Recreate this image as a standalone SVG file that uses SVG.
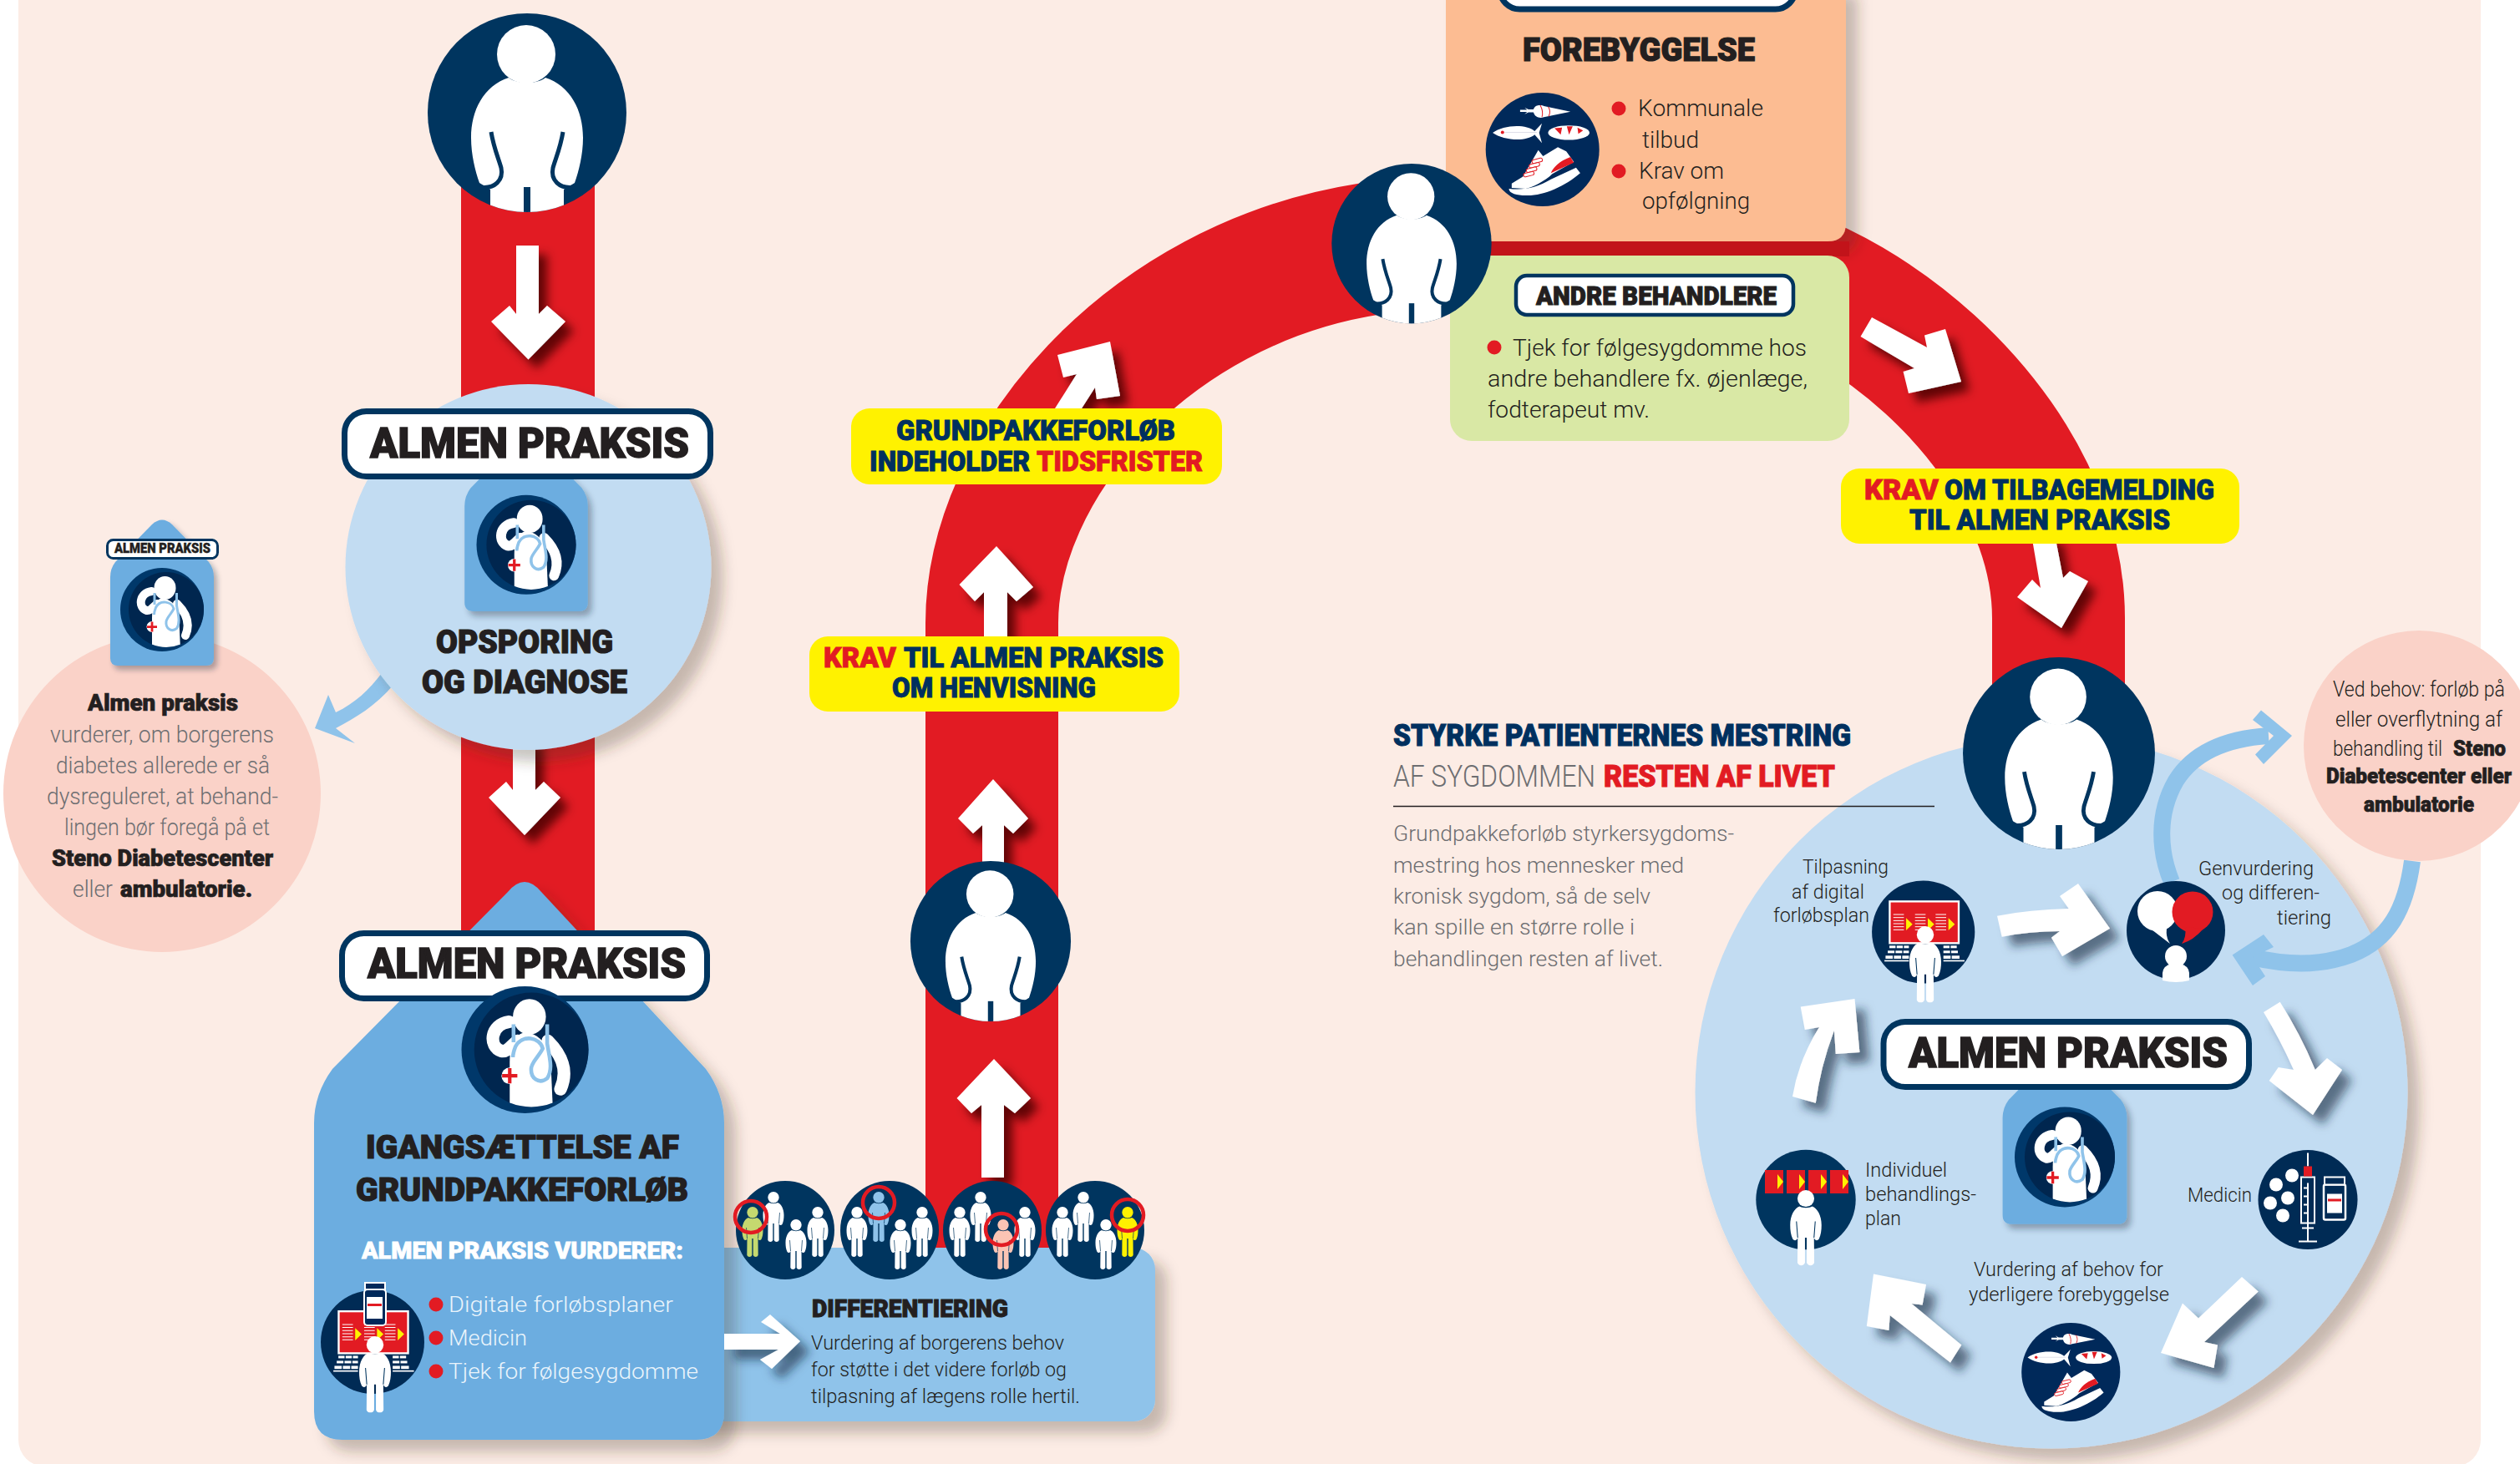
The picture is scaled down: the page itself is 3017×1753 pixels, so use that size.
<svg xmlns="http://www.w3.org/2000/svg" width="3017" height="1753" viewBox="0 0 3017 1753">
<style>
text{font-family:Roboto,"Liberation Sans",sans-serif}
.h{font-weight:900;fill:#231f20;stroke:#231f20;stroke-width:1}
.l{font-weight:300;fill:#231f20}
.g{font-weight:300;fill:#6d6e71}
.y{font-weight:900;fill:#00305f;stroke:#00305f;stroke-width:.9;font-size:34px}
.y .r{stroke:#e21b23}
.r{fill:#e21b23}
.w{fill:#fff}
.lab{fill:#fff;stroke:#00355f;stroke-width:7}
.yb{fill:#fff200}
.bul{fill:#e21b23}
.wr{fill:#fff;filter:url(#asr)}
.wb{fill:#fff;filter:url(#asb)}
.sky{fill:none;stroke:#8fc3ea;stroke-width:20}
.skyf{fill:#8fc3ea}
.t28{font-size:28px}.t26{font-size:26px}.t24{font-size:24px}.t25{font-size:25px}.t27{font-size:27px}
.h50{font-size:50px;stroke-width:1.500}.h38{font-size:38px;stroke-width:1.200}
</style>
<defs>
<filter id="sh" x="-15%" y="-15%" width="130%" height="130%"><feDropShadow dx="14" dy="14" stdDeviation="8" flood-color="#3a2a20" flood-opacity=".28"/></filter>
<filter id="shs" x="-20%" y="-20%" width="140%" height="140%"><feDropShadow dx="4" dy="5" stdDeviation="3" flood-color="#1a2a3a" flood-opacity=".35"/></filter>
<filter id="asr" x="-40%" y="-40%" width="180%" height="180%"><feDropShadow dx="10" dy="11" stdDeviation="6" flood-color="#4c0005" flood-opacity=".85"/></filter>
<filter id="asb" x="-40%" y="-40%" width="180%" height="180%"><feDropShadow dx="12" dy="12" stdDeviation="6" flood-color="#12283c" flood-opacity=".6"/></filter>
<clipPath id="cp119"><circle r="119"/></clipPath>
<clipPath id="cpd"><circle cx="10" r="90"/></clipPath>
<g id="pbig">
<circle r="119" fill="#00355f"/>
<g clip-path="url(#cp119)">
<circle cx="-1" cy="-70" r="35" class="w"/>
<path class="w" d="M-22-42C-52-32-67-3-67 30C-67 50-62 70-57 84L-44 92L-44 130L44 130L44 92L57 84C62 70 67 50 67 30C67-3 52-32 22-42C12-34-12-34-22-42Z"/>
<path fill="none" stroke="#00355f" stroke-width="5" d="M-43 23C-40 42-34 55-31 66C-28 80-38 92-57 89M43 23C40 42 34 55 31 66C28 80 38 92 57 89"/>
<rect x="-4" y="89" width="8" height="32" fill="#00355f"/>
</g>
</g>
<g id="sp">
<circle cy="6.700" r="6.700"/>
<path d="M-5 13C-9 14.500-12.500 20-12.500 28C-12.500 32-12 36-10.500 39C-9 41-7 40-6.500 38L-6.700 58A3.200 3.200 0 0 0-.7 58L-.7 38L.7 38L.7 58A3.200 3.200 0 0 0 6.700 58L6.500 38C7 40 9 41 10.500 39C12 36 12.500 32 12.500 28C12.500 20 9 14.500 5 13C3 14.500-3 14.500-5 13Z"/>
<path fill="none" stroke="#00355f" stroke-width=".7" d="M-7.500 25L-6.500 38M7.500 25L6.500 38"/>
</g>
<g id="doc">
<circle r="100" fill="#00386a"/>
<circle cx="10" r="90" fill="#00264f"/>
<g clip-path="url(#cpd)">
<path class="w" d="M-5-26C15-30 30-15 40 5L44 95L-24 95L-24 20C-24 0-20-20-5-26Z"/>
</g>
<path fill="none" stroke="#fff" stroke-width="20" stroke-linecap="round" d="M-25-44C-55-40-58-5-37 2C-28 4-20-8-12-14M36-14C55 5 70 30 56 62"/>
<ellipse cx="7" cy="-52" rx="26" ry="28" class="w"/>
<circle cx="-24" cy="41" r="13" class="w"/>
<path fill="none" stroke="#8fc3ea" stroke-width="6" d="M-18-40L-18-12M35-40L35-10C38 10 45 30 35 45C22 55 8 45 10 28C12 18 22 10 28-2C24-20-5-25-15-5C-18 3-19 8-19 12"/>
<path fill="none" stroke="#e21b23" stroke-width="5.500" d="M-36 41H-12M-24 29V53"/>
</g>
<g id="house">
<path fill="#6cade0" filter="url(#shs)" d="M-12 5Q0-6 12 5L56 50Q62 58 62 68L62 165Q62 174 53 174L-53 174Q-62 174-62 165L-62 68Q-62 58-56 50Z"/>
<use href="#doc" transform="translate(0,107) scale(.5)"/>
</g>
<g id="screen-base">
<circle r="185" fill="#002b55"/>
<rect x="-121" y="-110" width="248" height="150" fill="#e21b23" stroke="#fff" stroke-width="7"/>
<path stroke="#fff" stroke-width="3" fill="none" d="M-108-63h38M-108-52h38M-108-41h38M-108-30h38M-108-19h38M-108-8h38M-30-63h38M-30-52h38M-30-41h38M-30-30h38M-30-19h38M-30-8h38M44-63h38M44-52h38M44-41h38M44-30h38M44-19h38M44-8h38"/>
<path fill="#fff200" d="M-62-50L-39-28L-62-6ZM16-50L39-28L16-6ZM90-50L113-28L90-6Z"/>
<g fill="#fff">
<rect x="-122" y="49" width="22" height="9"/><rect x="-96" y="49" width="22" height="9"/><rect x="-70" y="49" width="18" height="9"/>
<rect x="-128" y="67" width="24" height="9"/><rect x="-100" y="67" width="24" height="9"/><rect x="-72" y="67" width="20" height="9"/>
<rect x="-136" y="85" width="26" height="11"/><rect x="-106" y="85" width="26" height="11"/><rect x="-76" y="85" width="24" height="11"/>
<rect x="-140" y="101" width="88" height="5"/>
<rect x="72" y="49" width="22" height="9"/><rect x="98" y="49" width="22" height="9"/>
<rect x="72" y="67" width="24" height="9"/><rect x="100" y="67" width="24" height="9"/>
<rect x="72" y="85" width="26" height="11"/><rect x="102" y="85" width="28" height="11"/>
<rect x="72" y="101" width="76" height="5"/>
</g>
</g>
<g id="food">
<circle r="203" fill="#00295a"/>
<g transform="translate(-260,-238)">
<path class="w" d="M180 96H205L196 88L210 95H228C232 78 255 78 265 83L360 103L265 122C250 128 232 122 228 105H210L196 112L205 104H180Z"/>
<path fill="none" stroke="#e21b23" stroke-width="3" d="M252 80C260 95 262 110 258 122M280 85C288 95 288 108 282 120"/>
<path class="w" d="M82 178C120 150 200 145 232 172L258 145L248 178L258 215L232 185C200 212 120 205 82 178Z"/>
<circle cx="117" cy="177" r="6" class="r"/>
<path stroke="#ccd" stroke-width="2" d="M125 177H240"/>
<ellipse cx="354" cy="178" rx="74" ry="26" class="w"/>
<path class="r" d="M303 162L330 160L325 185ZM347 155L368 155L355 185ZM385 160L405 170L388 182Z"/>
<path class="w" d="M150 360L190 335L245 240L262 262L315 230L345 245L372 282L295 325C270 350 220 375 200 378L150 375Z"/>
<path class="r" d="M290 322C300 300 320 280 360 265L372 285Z"/>
<path class="w" d="M140 378C190 385 240 375 290 345L380 303L395 322C340 370 260 405 200 402C170 402 140 395 140 378Z"/>
<g fill="#fff" stroke="#e21b23" stroke-width="3"><rect x="222" y="272" width="38" height="13" rx="6" transform="rotate(-14 240 278)"/><rect x="212" y="288" width="38" height="13" rx="6" transform="rotate(-14 230 294)"/><rect x="202" y="304" width="38" height="13" rx="6" transform="rotate(-14 220 310)"/><rect x="192" y="320" width="38" height="13" rx="6" transform="rotate(-14 210 326)"/></g>
</g>
</g>
</defs>
<rect width="3017" height="1753" fill="#fff"/>
<rect x="22" y="-40" width="2948" height="1796" rx="32" fill="#fcece5"/>

<g id="connectors">
<path fill="none" stroke="#e21b23" stroke-width="160" d="M632 100V1200"/>
<path fill="none" stroke="#e21b23" stroke-width="159" d="M1187.500 1510V746C1187.500 560 1370 340 1640 298C1850 265 2050 270 2214 365C2350 445 2464.500 590 2464.500 740V880"/>
<path class="wr" d="M618 294H645V376L655 366L677 385L632.500 430.500L588 385L610 366L618 376Z"/>
<path class="wr" d="M614 880H641V946L651 936L671 955L628 1000L585 955L606 936L614 946Z"/>
<path class="wr" d="M1175 1410V1323L1163 1333L1145.500 1315L1190 1268L1234 1315L1215 1333L1202 1323V1410Z"/>
<path class="wr" d="M1176 1040V988L1165 998L1147 980L1189 933L1231 980L1213 998L1202 988V1040Z"/>
<path class="wr" d="M1178 770V709L1167 720L1148.500 700L1193 654L1237 703L1217 720L1206 709V770Z"/>
<path class="wr" d="M1263 489L1289 448L1273 452L1266 425L1329 409L1341 474L1313 478L1311 464L1295 489Z"/>
<path class="wr" d="M2241 380L2307 416L2304 401.500L2329 394L2348 457L2285 471L2278.600 445L2292 441L2227.500 403Z"/>
<path class="wr" d="M2432 640L2460 640L2470 692L2478 684L2500 696L2468 752L2415 715L2433 694L2443 704Z"/>
</g>

<g id="node-person-top"><use href="#pbig" transform="translate(631,135)"/></g>

<g id="node-opsporing">
<path class="skyf" d="M457 806L471 820C450 845 425 860 402 872L425 890L377 872L393 832L402 853C425 842 442 826 457 806Z"/>
<circle cx="632.500" cy="679" r="219" fill="#c2dcf2" filter="url(#sh)"/>
<use href="#house" transform="translate(630,525) scale(1.19)"/>
<rect class="lab" x="412.500" y="492.500" width="438" height="78" rx="26"/>
<text class="h h50" x="443" y="548" textLength="382" lengthAdjust="spacingAndGlyphs">ALMEN PRAKSIS</text>
<text class="h h38" x="522" y="782" textLength="212" lengthAdjust="spacingAndGlyphs">OPSPORING</text>
<text class="h h38" x="505" y="830" textLength="246" lengthAdjust="spacingAndGlyphs">OG DIAGNOSE</text>
</g>

<g id="node-pink-left">
<circle cx="194" cy="950" r="190" fill="#fad2c8"/>
<use href="#house" transform="translate(194,623)"/>
<rect class="lab" x="128.500" y="646.500" width="132" height="22" rx="7" style="stroke-width:3"/>
<text class="h" font-size="16" x="137" y="662" textLength="115" lengthAdjust="spacingAndGlyphs" style="stroke-width:.4">ALMEN PRAKSIS</text>
<text class="h t28" x="105" y="851" textLength="180" lengthAdjust="spacingAndGlyphs" style="stroke-width:.7">Almen praksis</text>
<text class="g t27" x="60" y="889" textLength="268" lengthAdjust="spacingAndGlyphs">vurderer, om borgerens</text>
<text class="g t27" x="67" y="926" textLength="256" lengthAdjust="spacingAndGlyphs">diabetes allerede er så</text>
<text class="g t27" x="56" y="963" textLength="277" lengthAdjust="spacingAndGlyphs">dysreguleret, at behand-</text>
<text class="g t27" x="77" y="1000" textLength="246" lengthAdjust="spacingAndGlyphs">lingen bør foregå på et</text>
<text class="h t27" x="62" y="1037" textLength="265" lengthAdjust="spacingAndGlyphs" style="stroke-width:.7">Steno Diabetescenter</text>
<text class="t27" y="1074"><tspan class="g" x="87" textLength="48" lengthAdjust="spacingAndGlyphs">eller</tspan> <tspan x="144" class="h" style="stroke-width:.7" textLength="158" lengthAdjust="spacingAndGlyphs">ambulatorie.</tspan></text>
</g>

<g id="node-differentiering">
<rect x="800" y="1494" width="583" height="208" rx="26" fill="#8fc3ea" filter="url(#sh)"/>
<text class="h" font-size="29" x="972" y="1577" textLength="235" lengthAdjust="spacingAndGlyphs">DIFFERENTIERING</text>
<text class="l t24" x="971" y="1616" textLength="303" lengthAdjust="spacingAndGlyphs">Vurdering af borgerens behov</text>
<text class="l t24" x="971" y="1648" textLength="306" lengthAdjust="spacingAndGlyphs">for støtte i det videre forløb og</text>
<text class="l t24" x="971" y="1680" textLength="322" lengthAdjust="spacingAndGlyphs">tilpasning af lægens rolle hertil.</text>
</g>

<g id="node-igangsaettelse">
<path fill="#6cade0" filter="url(#sh)" d="M608 1068Q628 1044 648 1068L845 1280Q867 1310 867 1345L867 1690Q867 1724 833 1724L410 1724Q376 1724 376 1690L376 1345Q376 1310 398 1280Z"/>
<rect class="lab" x="409.500" y="1117.500" width="437" height="78" rx="26"/>
<text class="h h50" x="440" y="1171" textLength="381" lengthAdjust="spacingAndGlyphs">ALMEN PRAKSIS</text>
<use href="#doc" transform="translate(628.500,1257) scale(.76)"/>
<text class="h h38" x="438" y="1387" textLength="375" lengthAdjust="spacingAndGlyphs">IGANGSÆTTELSE AF</text>
<text class="h h38" x="426" y="1438" textLength="398" lengthAdjust="spacingAndGlyphs">GRUNDPAKKEFORLØB</text>
<text font-weight="900" fill="#fff" stroke="#fff" stroke-width=".8" font-size="28" x="433" y="1507" textLength="385" lengthAdjust="spacingAndGlyphs">ALMEN PRAKSIS VURDERER:</text>
<use href="#screen-base" transform="translate(446,1607) scale(.335)"/>
<g transform="translate(370,1520)">
<rect x="67" y="16" width="24" height="8" fill="#00295a" stroke="#fff" stroke-width="2"/>
<rect x="66" y="24" width="26" height="43" rx="4" fill="#00295a" stroke="#fff" stroke-width="2"/>
<rect x="69" y="33" width="19" height="26" fill="#fff"/>
<rect x="70" y="41" width="17" height="3" fill="#e21b23"/>
</g>
<use href="#sp" fill="#fff" transform="translate(449,1600) scale(1.52)"/>
<circle class="bul" cx="522" cy="1562" r="8.500"/><circle class="bul" cx="522" cy="1602" r="8.500"/><circle class="bul" cx="522" cy="1642" r="8.500"/>
<text class="t26" font-weight="300" fill="#eaf4fb" x="537" y="1571" textLength="269" lengthAdjust="spacingAndGlyphs">Digitale forløbsplaner</text>
<text class="t26" font-weight="300" fill="#eaf4fb" x="537" y="1611" textLength="94" lengthAdjust="spacingAndGlyphs">Medicin</text>
<text class="t26" font-weight="300" fill="#eaf4fb" x="537" y="1651" textLength="299" lengthAdjust="spacingAndGlyphs">Tjek for følgesygdomme</text>
<path class="wb" d="M867 1597H934L911 1583L922 1574L958 1606L924 1639L910 1628L932 1616H867Z"/>
</g>

<g id="node-people">
<g transform="translate(940,1473)"><circle r="59" fill="#00355f"/><use href="#sp" fill="#fff" transform="translate(-14,-46)"/><use href="#sp" fill="#fff" transform="translate(13,-13)"/><use href="#sp" fill="#fff" transform="translate(39,-28)"/><use href="#sp" fill="#c5d96f" transform="translate(-39,-28)"/><circle cx="-41" cy="-16" r="19" fill="none" stroke="#e21b23" stroke-width="4.500"/></g>
<g transform="translate(1065,1473)"><circle r="59" fill="#00355f"/><use href="#sp" fill="#fff" transform="translate(-39,-28)"/><use href="#sp" fill="#8fc3ea" transform="translate(-13,-46)"/><use href="#sp" fill="#fff" transform="translate(13,-13)"/><use href="#sp" fill="#fff" transform="translate(39,-28)"/><circle cx="-13" cy="-33" r="19" fill="none" stroke="#e21b23" stroke-width="4.500"/></g>
<g transform="translate(1188,1473)"><circle r="59" fill="#00355f"/><use href="#sp" fill="#fff" transform="translate(-39,-28)"/><use href="#sp" fill="#fff" transform="translate(-14,-46)"/><use href="#sp" fill="#fff" transform="translate(39,-28)"/><use href="#sp" fill="#fbc4b4" transform="translate(13,-13)"/><circle cx="11" cy="-1" r="19" fill="none" stroke="#e21b23" stroke-width="4.500"/></g>
<g transform="translate(1311,1473)"><circle r="59" fill="#00355f"/><use href="#sp" fill="#fff" transform="translate(-39,-28)"/><use href="#sp" fill="#fff" transform="translate(-14,-46)"/><use href="#sp" fill="#fff" transform="translate(13,-13)"/><use href="#sp" fill="#fff200" transform="translate(39,-28)"/><circle cx="39" cy="-18" r="19" fill="none" stroke="#e21b23" stroke-width="4.500"/></g>
</g>

<g id="node-person-lower"><use href="#pbig" transform="translate(1186,1127) scale(.807)"/></g>

<g id="node-krav-henvisning">
<rect class="yb" x="969" y="762" width="443" height="90" rx="22"/>
<text class="y" y="799"><tspan class="r" x="986" textLength="87" lengthAdjust="spacingAndGlyphs">KRAV</tspan> <tspan x="1082" textLength="311" lengthAdjust="spacingAndGlyphs">TIL ALMEN PRAKSIS</tspan></text>
<text class="y" x="1068" y="835" textLength="244" lengthAdjust="spacingAndGlyphs">OM HENVISNING</text>
</g>
<g id="node-tidsfrister">
<rect class="yb" x="1019" y="489" width="444" height="91" rx="22"/>
<text class="y" x="1073" y="527" textLength="334" lengthAdjust="spacingAndGlyphs">GRUNDPAKKEFORLØB</text>
<text class="y" y="564"><tspan x="1041" textLength="192" lengthAdjust="spacingAndGlyphs">INDEHOLDER</tspan> <tspan class="r" x="1241" textLength="199" lengthAdjust="spacingAndGlyphs">TIDSFRISTER</tspan></text>
</g>
<g id="node-tilbagemelding">
<rect class="yb" x="2204" y="561" width="477" height="90" rx="22"/>
<text class="y" y="598"><tspan class="r" x="2232" textLength="89" lengthAdjust="spacingAndGlyphs">KRAV</tspan> <tspan x="2328" textLength="323" lengthAdjust="spacingAndGlyphs">OM TILBAGEMELDING</tspan></text>
<text class="y" x="2286" y="634" textLength="312" lengthAdjust="spacingAndGlyphs">TIL ALMEN PRAKSIS</text>
</g>

<g id="node-forebyggelse">
<path fill="#fcbc92" filter="url(#sh)" d="M1731-20H2210V267Q2210 289 2188 289H1731Z"/>
<rect class="lab" x="1795.500" y="-60" width="354" height="71" rx="24"/>
<text class="h h38" x="1823" y="73" textLength="278" lengthAdjust="spacingAndGlyphs">FOREBYGGELSE</text>
<use href="#food" transform="translate(1846.700,179) scale(.335)"/>
<circle class="bul" cx="1938" cy="130" r="8.500"/><circle class="bul" cx="1938" cy="205" r="8.500"/>
<text class="l t28" x="1961" y="139" textLength="150" lengthAdjust="spacingAndGlyphs">Kommunale</text>
<text class="l t28" x="1966" y="177" textLength="68" lengthAdjust="spacingAndGlyphs">tilbud</text>
<text class="l t28" x="1962" y="214" textLength="102" lengthAdjust="spacingAndGlyphs">Krav om</text>
<text class="l t28" x="1966" y="250" textLength="129" lengthAdjust="spacingAndGlyphs">opfølgning</text>
</g>
<rect x="1731" y="289" width="483" height="18" fill="#c2131a"/>
<g id="node-andre">
<rect x="1736" y="306" width="478" height="222" rx="26" fill="#d9e8a5"/>
<rect class="lab" x="1815" y="330" width="332" height="47" rx="13" style="stroke-width:4.500"/>
<text class="h" font-size="31" x="1839" y="365" textLength="288" lengthAdjust="spacingAndGlyphs">ANDRE BEHANDLERE</text>
<circle class="bul" cx="1789" cy="416" r="8.500"/>
<text class="l t28" x="1811" y="426" textLength="352" lengthAdjust="spacingAndGlyphs">Tjek for følgesygdomme hos</text>
<text class="l t28" x="1781" y="463" textLength="383" lengthAdjust="spacingAndGlyphs">andre behandlere fx. øjenlæge,</text>
<text class="l t28" x="1781" y="500" textLength="194" lengthAdjust="spacingAndGlyphs">fodterapeut mv.</text>
</g>
<g id="node-person-arch"><use href="#pbig" transform="translate(1690,291.600) scale(.804)"/></g>

<g id="node-almen-circle">
<circle cx="2456" cy="1308" r="426.500" fill="#c2dcf2" filter="url(#sh)"/>
</g>
<g id="node-mestring">
<text class="h" font-size="36" x="1668" y="893" textLength="548" lengthAdjust="spacingAndGlyphs" style="fill:#00305f;stroke:#00305f">STYRKE PATIENTERNES MESTRING</text>
<text font-size="36" y="942"><tspan class="g" x="1668" textLength="242" lengthAdjust="spacingAndGlyphs">AF SYGDOMMEN</tspan> <tspan class="h" style="fill:#e21b23;stroke:#e21b23" x="1920" textLength="277" lengthAdjust="spacingAndGlyphs">RESTEN AF LIVET</tspan></text>
<path d="M1668 965.500H2316" stroke="#231f20" stroke-width="1.500"/>
<text class="g t25" x="1668" y="1007" textLength="408" lengthAdjust="spacingAndGlyphs">Grundpakkeforløb styrkersygdoms-</text>
<text class="g t25" x="1668" y="1045" textLength="348" lengthAdjust="spacingAndGlyphs">mestring hos mennesker med</text>
<text class="g t25" x="1668" y="1082" textLength="308" lengthAdjust="spacingAndGlyphs">kronisk sygdom, så de selv</text>
<text class="g t25" x="1668" y="1119" textLength="289" lengthAdjust="spacingAndGlyphs">kan spille en større rolle i</text>
<text class="g t25" x="1668" y="1157" textLength="323" lengthAdjust="spacingAndGlyphs">behandlingen resten af livet.</text>
</g>
<g id="node-pink-right">
<circle cx="2896" cy="893" r="138" fill="#fad2c8"/>
<text class="l t25" x="2793" y="834" textLength="206" lengthAdjust="spacingAndGlyphs">Ved behov: forløb på</text>
<text class="l t25" x="2796" y="870" textLength="200" lengthAdjust="spacingAndGlyphs">eller overflytning af</text>
<text class="t25" y="905"><tspan class="l" x="2793" textLength="131" lengthAdjust="spacingAndGlyphs">behandling til</tspan> <tspan class="h" style="stroke-width:.7" x="2937" textLength="63" lengthAdjust="spacingAndGlyphs">Steno</tspan></text>
<text class="h t25" style="stroke-width:.7" x="2785" y="938" textLength="222" lengthAdjust="spacingAndGlyphs">Diabetescenter eller</text>
<text class="h t25" style="stroke-width:.7" x="2830" y="972" textLength="132" lengthAdjust="spacingAndGlyphs">ambulatorie</text>
</g>
<g id="connectors-circle">
<path class="sky" d="M2600 1056C2585 1020 2582 975 2605 935C2628 898 2670 884 2716 881"/>
<path class="skyf" d="M2697 862L2707 850.500L2744 881L2710 915L2700 903.500L2722 881Z"/>
<path class="sky" d="M2888 1031C2880 1090 2860 1125 2815 1143C2775 1158 2735 1155 2695 1146"/>
<path class="skyf" d="M2722 1134L2710 1119L2672.600 1143.500L2697 1180L2712 1169L2697 1146Z"/>
<path class="wb" d="M2391 1096.700Q2430 1089 2476.700 1088L2466 1073L2488 1058L2526 1111.700L2469 1145L2456 1122.700L2466 1115Q2430 1115 2396.700 1121.700Z"/>
<path class="wb" d="M2729.700 1199.800Q2755 1240 2771.800 1281L2786 1267L2804 1281L2769 1335L2716.700 1294L2727.700 1278L2746 1281Q2730 1245 2710 1212Z"/>
<path class="wb" d="M2684 1529L2632 1578.500L2613 1560.600L2587 1620L2650.500 1638L2655 1610.500L2639 1607L2703.700 1546.500Z"/>
<path class="wb" d="M2243 1525.400L2306 1538L2301.600 1562.500L2288.600 1561L2348.300 1610.500L2335 1631.600L2262.700 1575L2261.400 1593L2234.800 1588Z"/>
<path class="wb" d="M2146 1313Q2153 1270 2178 1230L2160.800 1233L2155.700 1205.500L2220.500 1196L2226.400 1260L2197.800 1262L2195.900 1234Q2180 1275 2173.800 1320.700Z"/>
</g>
<g id="node-person-big"><use href="#pbig" transform="translate(2465,902) scale(.966)"/></g>
<g id="node-center">
<use href="#house" transform="translate(2472,1257) scale(1.2)"/>
<rect class="lab" x="2255" y="1223.500" width="437.500" height="78" rx="26"/>
<text class="h h50" x="2285" y="1278" textLength="382" lengthAdjust="spacingAndGlyphs">ALMEN PRAKSIS</text>
</g>
<g id="node-tilpasning">
<use href="#screen-base" transform="translate(2302.700,1116) scale(.333)"/>
<use href="#sp" fill="#fff" transform="translate(2305,1109) scale(1.52)"/>
<text class="l t24" x="2158" y="1046" textLength="103" lengthAdjust="spacingAndGlyphs">Tilpasning</text>
<text class="l t24" x="2145" y="1076" textLength="87" lengthAdjust="spacingAndGlyphs">af digital</text>
<text class="l t24" x="2123" y="1104" textLength="115" lengthAdjust="spacingAndGlyphs">forløbsplan</text>
</g>
<g id="node-genvurdering">
<circle cx="2605" cy="1114" r="59" fill="#002b55"/>
<ellipse cx="2583" cy="1091" rx="24" ry="24" class="w"/>
<path class="w" d="M2572 1110Q2585 1120 2598 1130Q2590 1118 2597 1102Z"/>
<ellipse cx="2625" cy="1092" rx="24.500" ry="24.500" class="r"/>
<path class="r" d="M2616 1110Q2618 1122 2612 1130Q2626 1126 2638 1112Z"/>
<circle cx="2605" cy="1145" r="13" class="w"/>
<path class="w" d="M2589 1174L2589 1165Q2590 1156 2600 1154H2610Q2620 1156 2621 1165L2621 1174Q2605 1178 2589 1174Z"/>
<text class="l t24" x="2632" y="1048" textLength="138" lengthAdjust="spacingAndGlyphs">Genvurdering</text>
<text class="l t24" x="2660" y="1077" textLength="117" lengthAdjust="spacingAndGlyphs">og differen-</text>
<text class="l t24" x="2726" y="1107" textLength="65" lengthAdjust="spacingAndGlyphs">tiering</text>
</g>
<g id="node-individuel">
<circle cx="2162" cy="1436.500" r="59.700" fill="#00355f"/>
<g class="r"><rect x="2113" y="1401" width="22" height="28"/><rect x="2139" y="1401" width="22" height="28"/><rect x="2165" y="1401" width="22" height="28"/><rect x="2191" y="1401" width="22" height="28"/></g>
<path fill="#fff200" d="M2128 1406L2135 1415L2128 1424ZM2154 1406L2161 1415L2154 1424ZM2180 1406L2187 1415L2180 1424ZM2206 1406L2213 1415L2206 1424Z"/>
<use href="#sp" fill="#fff" transform="translate(2162,1425) scale(1.5)"/>
<text class="l t24" x="2233" y="1409" textLength="98" lengthAdjust="spacingAndGlyphs">Individuel</text>
<text class="l t24" x="2233" y="1438" textLength="133" lengthAdjust="spacingAndGlyphs">behandlings-</text>
<text class="l t24" x="2233" y="1467" textLength="43" lengthAdjust="spacingAndGlyphs">plan</text>
</g>
<g id="node-medicin">
<g transform="translate(2763,1436.500)">
<circle r="59.500" fill="#002b55"/>
<g class="w"><circle cx="-38" cy="-18" r="8"/><circle cx="-19" cy="-29" r="8"/><circle cx="-24" cy="-2" r="8"/><circle cx="-45" cy="4" r="8"/><circle cx="-30" cy="19" r="8"/></g>
<path fill="none" stroke="#fff" stroke-width="2" d="M0-56V-40M-8-27H8V28H-8ZM0-20V50M-11 50H11M-7 34H7M-5-14H0M-5-4H0M-5 6H0M-5 16H0"/>
<rect x="-5" y="-40" width="10" height="12" class="r"/>
<rect x="19" y="-18" width="26" height="42" rx="2" fill="#002b55" stroke="#fff" stroke-width="2.500"/>
<rect x="20" y="-27" width="24" height="9" fill="#002b55" stroke="#fff" stroke-width="2"/>
<rect x="23" y="-7" width="18" height="23" class="w"/>
<rect x="24" y="-1" width="16" height="3" class="r"/>
</g>
<text class="l t24" x="2619" y="1439" textLength="77" lengthAdjust="spacingAndGlyphs">Medicin</text>
</g>
<g id="node-vurdering">
<use href="#food" transform="translate(2479.300,1643) scale(.291)"/>
<text class="l t24" x="2363" y="1528" textLength="227" lengthAdjust="spacingAndGlyphs">Vurdering af behov for</text>
<text class="l t24" x="2357" y="1558" textLength="240" lengthAdjust="spacingAndGlyphs">yderligere forebyggelse</text>
</g>
</svg>
